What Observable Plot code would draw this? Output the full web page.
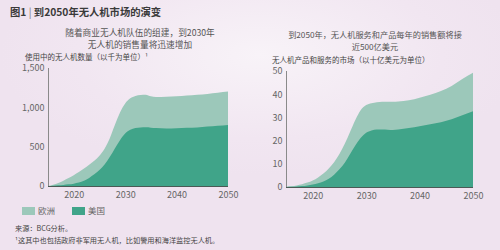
<!DOCTYPE html>
<html>
<head>
<meta charset="utf-8">
<script src="https://cdn.jsdelivr.net/npm/d3@7"></script>
<script src="https://cdn.jsdelivr.net/npm/@observablehq/plot@0.6"></script>
<style>
  html, body { margin: 0; padding: 0; }
  body {
    width: 500px; height: 250px; overflow: hidden; position: relative;
    font-family: "Noto Sans CJK SC", "Noto Sans", sans-serif;
    background: radial-gradient(ellipse 260px 120px at 260px 55px, #f8f3f8 0%, #f1e6f1 70%, #efe3ef 100%);
    color: #444;
  }
  .abs { position: absolute; white-space: nowrap; }
  #title { left: 10px; top: 5px; font-size: 10.3px; font-weight: bold; color: #3a3a3a; line-height: 14px; }
  #title .bar { color: #777; font-weight: normal; }
  .sub { color: #555; text-align: center; }
  .sub div { height: 12px; line-height: 12px; }
  .ylab { font-size: 7.5px; color: #444; line-height: 9px; }
  .foot { font-size: 7.2px; color: #444; left: 15px; line-height: 10px; }
  .sw { position: absolute; width: 13px; height: 8px; }
  .lg { font-size: 8.5px; color: #666; line-height: 11px; }
  .chart { position: absolute; top: 60px; }
</style>
</head>
<body>
<div id="title" class="abs">图1 <span class="bar">|</span> 到2050年无人机市场的演变</div>
<div class="abs sub" style="left:140px; top:27px; transform:translateX(-50%); font-size:8.7px;"><div>随着商业无人机队伍的组建，到2030年</div><div>无人机的销售量将迅速增加</div></div>
<div class="abs sub" style="left:375px; top:28px; transform:translateX(-50%); font-size:8.2px;"><div>到2050年，无人机服务和产品每年的销售额将接</div><div>近500亿美元</div></div>
<div class="abs ylab" style="left:25px; top:52px;">使用中的无人机数量（以千为单位）¹</div>
<div class="abs ylab" style="left:272px; top:55px;">无人机产品和服务的市场（以十亿美元为单位）</div>
<div id="left" class="chart" style="left:0px;"></div>
<div id="right" class="chart" style="left:250px;"></div>
<div id="legend"></div>
<div class="abs foot" style="top:223px;">来源：BCG分析。</div>
<div class="abs foot" style="top:235px;">¹这其中也包括政府非军用无人机，比如警用和海洋监控无人机。</div>
<script>
const years = [2015, 2016, 2017, 2018, 2019, 2020, 2021, 2022, 2023, 2024, 2025, 2026, 2027, 2028, 2029, 2030, 2031, 2032, 2033, 2034, 2035, 2036, 2038, 2040, 2042, 2044, 2046, 2048, 2050];
// Left: drones in use (thousands)
const dronesTotal = [0, 15, 38, 68, 102, 138, 178, 222, 270, 322, 385, 475, 605, 775, 935, 1050, 1115, 1145, 1157, 1160, 1140, 1132, 1135, 1140, 1150, 1160, 1170, 1185, 1200];
const dronesUS    = [0, 3, 8, 14, 21, 30, 43, 68, 103, 148, 203, 273, 368, 478, 583, 668, 715, 738, 745, 746, 742, 737, 731, 735, 740, 745, 755, 765, 775];
// Right: market (billions USD)
const marketTotal = [0, 0.3, 0.7, 1.2, 1.9, 2.8, 4.1, 5.8, 8.0, 10.7, 14.2, 18.6, 23.8, 29.0, 33.2, 35.3, 36.1, 36.5, 36.7, 36.7, 36.7, 36.8, 37.4, 38.5, 39.8, 41.4, 43.5, 46.5, 49.2];
const marketUS    = [0, 0.1, 0.2, 0.4, 0.7, 1.1, 1.6, 2.4, 3.6, 5.3, 7.6, 10.5, 14.2, 18.0, 21.2, 23.4, 24.4, 24.8, 24.8, 24.7, 24.6, 24.8, 25.4, 26.2, 27.0, 27.9, 29.2, 30.9, 32.7];
const xTicks = [2020, 2030, 2040, 2050];
const leftYTicks = [0, 500, 1000, 1500];
const rightYTicks = [0, 10, 20, 30, 40, 50];
const seriesNames = ["欧洲", "美国"];
const colors = ["#9cc8ba", "#40a489"];

function chart(total, us, yDomain, yTicks, yFmt, m) {
  const rows = years.map((y, i) => ({year: y, total: total[i], us: us[i]}));
  return Plot.plot({
    width: 240, height: 145,
    marginLeft: m.left, marginRight: m.right, marginTop: m.top, marginBottom: m.bottom,
    style: {background: "transparent", fontFamily: "Noto Sans CJK SC, Noto Sans, sans-serif", fontSize: "9px", color: "#666"},
    x: {domain: [2015, 2050], ticks: xTicks, tickFormat: d => String(d), tickSize: 0, tickPadding: 5, label: null},
    y: {domain: yDomain, ticks: yTicks, tickFormat: yFmt, tickSize: 0, tickPadding: 4, label: null},
    marks: [
      Plot.areaY(rows, {x: "year", y: "total", fill: colors[0], curve: "monotone-x"}),
      Plot.areaY(rows, {x: "year", y: "us", fill: colors[1], curve: "monotone-x"}),
      Plot.ruleX([2015], {stroke: "#8a8a8a", strokeWidth: 1}),
      Plot.ruleY([0], {stroke: "#4a5a55", strokeWidth: 1.2})
    ]
  });
}

document.getElementById("left").append(
  chart(dronesTotal, dronesUS, [0, 1500], leftYTicks, d3.format(","), {left: 48, right: 12, top: 8, bottom: 19})
);
document.getElementById("right").append(
  chart(marketTotal, marketUS, [0, 50], rightYTicks, d => String(d), {left: 36, right: 17, top: 11, bottom: 18})
);

const lg = document.getElementById("legend");
const lgPos = [22, 72];
seriesNames.forEach((name, i) => {
  const sw = document.createElement("div");
  sw.className = "sw";
  sw.style.left = lgPos[i] + "px"; sw.style.top = "207px"; sw.style.background = colors[i];
  lg.append(sw);
  const t = document.createElement("div");
  t.className = "abs lg";
  t.style.left = (lgPos[i] + 16) + "px"; t.style.top = "205px";
  t.textContent = name;
  lg.append(t);
});
</script>
</body>
</html>
